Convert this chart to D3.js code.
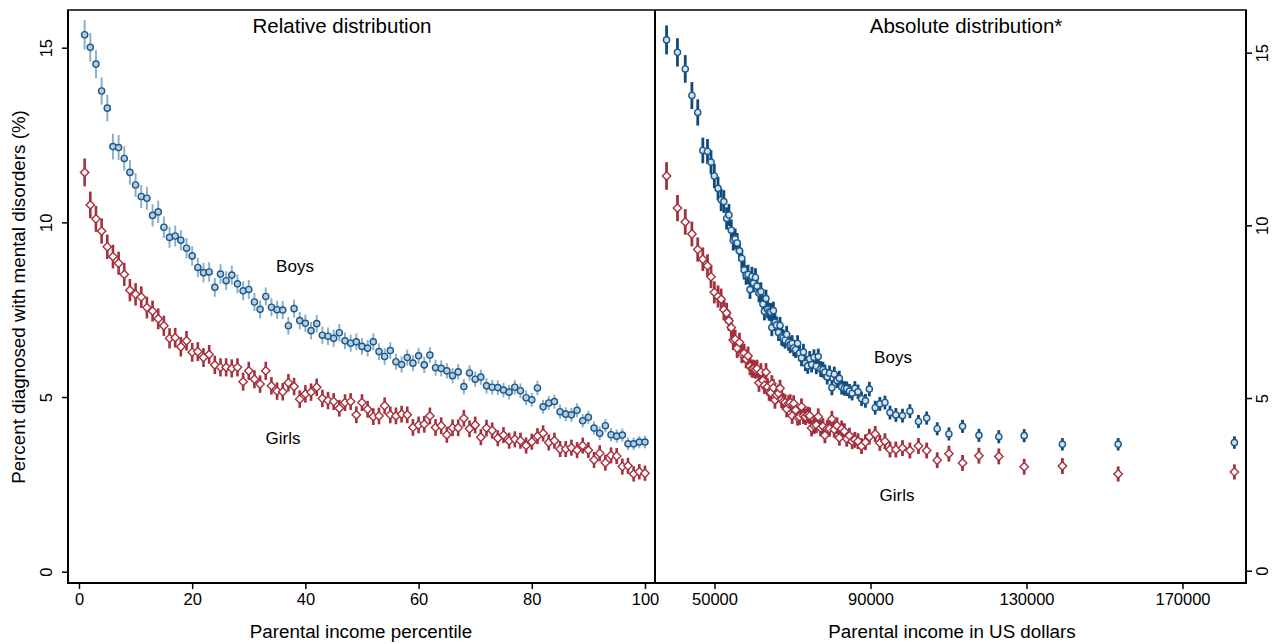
<!DOCTYPE html>
<html><head><meta charset="utf-8">
<script src="https://cdn.jsdelivr.net/npm/d3@7"></script>
<style>
body{margin:0;background:#fff}
svg{display:block}
text{font-family:"Liberation Sans",Arial,sans-serif;fill:#000}
</style>
</head><body>
<svg id="c" width="1274" height="644"></svg>
<script>
// ---------- DATA ----------
const percentiles = [1,2,3,4,5,6,7,8,9,10,11,12,13,14,15,16,17,18,19,20,21,22,23,24,25,26,27,28,29,30,31,32,33,34,35,36,37,38,39,40,41,42,43,44,45,46,47,48,49,50,51,52,53,54,55,56,57,58,59,60,61,62,63,64,65,66,67,68,69,70,71,72,73,74,75,76,77,78,79,80,81,82,83,84,85,86,87,88,89,90,91,92,93,94,95,96,97,98,99,100];

const boys = [15.37,15.01,14.53,13.76,13.27,12.17,12.14,11.83,11.43,11.07,
10.74,10.69,10.20,10.30,9.86,9.57,9.61,9.49,9.26,9.04,
8.71,8.56,8.58,8.14,8.52,8.33,8.49,8.24,8.04,8.08,
7.72,7.51,7.88,7.57,7.50,7.49,7.04,7.53,7.19,7.11,
6.90,7.10,6.77,6.74,6.68,6.84,6.61,6.54,6.58,6.45,
6.40,6.58,6.30,6.16,6.33,6.01,5.93,6.13,5.97,6.18,
5.92,6.20,5.84,5.82,5.75,5.61,5.72,5.30,5.69,5.51,
5.57,5.32,5.28,5.27,5.20,5.14,5.28,5.18,4.98,4.92,
5.26,4.72,4.83,4.87,4.58,4.51,4.49,4.62,4.32,4.42,
4.11,3.96,4.18,3.92,3.88,3.91,3.66,3.66,3.71,3.71];

const girls = [11.43,10.50,10.10,9.75,9.30,9.02,8.83,8.51,8.06,7.94,
7.86,7.56,7.46,7.24,7.04,6.68,6.70,6.44,6.61,6.28,
6.30,6.13,6.22,5.92,5.85,5.85,5.82,5.85,5.44,5.75,
5.51,5.37,5.75,5.32,5.17,5.15,5.41,5.30,4.94,5.09,
5.14,5.28,4.96,4.90,4.87,4.68,4.84,4.87,4.49,4.84,
4.65,4.44,4.46,4.75,4.49,4.46,4.51,4.49,4.13,4.20,
4.22,4.46,4.13,4.18,3.92,4.12,4.12,4.39,4.09,4.20,
3.85,4.11,4.04,3.82,3.91,3.75,3.79,3.75,3.61,3.72,
3.88,3.96,3.70,3.75,3.51,3.51,3.55,3.48,3.61,3.48,
3.20,3.39,3.12,3.33,3.31,3.01,3.03,2.80,2.86,2.82];

const boysCI = [0.42,0.41,0.40,0.39,0.38,0.37,0.36,0.35,0.35,0.34,
0.33,0.33,0.32,0.32,0.31,0.30,0.30,0.29,0.29,0.28,
0.28,0.28,0.28,0.27,0.28,0.27,0.27,0.27,0.27,0.27,
0.26,0.26,0.26,0.26,0.26,0.26,0.25,0.26,0.25,0.25,
0.25,0.25,0.25,0.25,0.25,0.25,0.24,0.24,0.24,0.24,
0.24,0.24,0.24,0.24,0.24,0.23,0.23,0.23,0.23,0.23,
0.23,0.23,0.23,0.23,0.22,0.22,0.22,0.22,0.22,0.22,
0.22,0.22,0.21,0.21,0.21,0.21,0.21,0.21,0.21,0.20,
0.21,0.20,0.20,0.20,0.20,0.20,0.20,0.20,0.19,0.19,
0.19,0.19,0.19,0.19,0.19,0.19,0.18,0.18,0.18,0.18];

const girlsCI = [0.40,0.38,0.37,0.36,0.35,0.34,0.33,0.33,0.32,0.32,
0.31,0.31,0.30,0.30,0.29,0.29,0.28,0.28,0.28,0.27,
0.27,0.27,0.27,0.26,0.26,0.26,0.26,0.26,0.26,0.26,
0.26,0.25,0.26,0.25,0.25,0.25,0.25,0.25,0.25,0.25,
0.25,0.25,0.25,0.25,0.24,0.24,0.24,0.24,0.24,0.24,
0.24,0.24,0.24,0.24,0.24,0.24,0.24,0.24,0.24,0.24,
0.24,0.24,0.24,0.24,0.23,0.24,0.24,0.24,0.24,0.24,
0.23,0.24,0.23,0.23,0.23,0.23,0.23,0.23,0.23,0.23,
0.23,0.23,0.23,0.23,0.23,0.23,0.23,0.23,0.23,0.23,
0.23,0.23,0.23,0.23,0.23,0.23,0.23,0.22,0.22,0.22];

// mean parental income (US$) of percentiles 1..99 (top percentile not shown in absolute panel)
const incomeUSD = [37700,40500,42500,44200,45700,47000,48200,49100,49950,50900,
51700,52400,53100,53700,54300,54800,55300,55800,56400,57000,
57600,58100,58600,59100,59600,60000,60500,60900,61400,61900,
62400,62800,63200,63600,64000,64400,64700,65100,65500,65900,
66400,66800,67200,67600,68100,68500,69000,69400,69900,70300,
70800,71300,71800,72300,72800,73300,73900,74400,74900,75500,
76100,76600,77200,77800,78300,78900,79500,80100,80700,81400,
82000,82600,83300,83900,84600,85300,86000,86800,87700,88700,
89700,91200,92400,93700,95000,96500,98200,100100,102300,104400,
107100,110100,113600,117800,122900,129400,139200,153500,183300];

const yTicks = [0,5,10,15];
const xTicksRel = [0,20,40,60,80,100];
const xTicksAbs = [50000,90000,130000,170000];
const panelTitles = ["Relative distribution","Absolute distribution*"];
const xTitles = ["Parental income percentile","Parental income in US dollars"];
const yTitle = "Percent diagnosed with mental disorders (%)";

// ---------- CHART ----------
const svg = d3.select('#c');
const BOY = '#1c5a8c', GIRL = '#a3303c';
const xL = d3.scaleLinear().domain([-1.94, 101.77]).range([68, 655]);
const yL = d3.scaleLinear().domain([0, 15]).range([571.7, 47.7]);
const xR = d3.scaleLinear().domain([34740, 186280]).range([655, 1246]);
const yR = d3.scaleLinear().domain([0, 15]).range([570.7, 52.7]);

const relBoys = percentiles.map((p,i)=>({x:p, y:boys[i], e:boysCI[i]}));
const relGirls = percentiles.map((p,i)=>({x:p, y:girls[i], e:girlsCI[i]}));
const absBoys = incomeUSD.map((v,i)=>({x:v, y:boys[i], e:boysCI[i]}));
const absGirls = incomeUSD.map((v,i)=>({x:v, y:girls[i], e:girlsCI[i]}));

const diamond = 'M0,-4.2L4.2,0L0,4.2L-4.2,0Z';

function drawSeries(g, data, xs, ys, barColor, barW, markColor, shape, fill){
  g.append('g').selectAll('line').data(data).join('line')
    .attr('x1', d=>xs(d.x)).attr('x2', d=>xs(d.x))
    .attr('y1', d=>ys(d.y - d.e)).attr('y2', d=>ys(d.y + d.e))
    .attr('stroke', barColor).attr('stroke-width', barW);
  if (shape === 'circle') {
    g.append('g').selectAll('circle').data(data).join('circle')
      .attr('cx', d=>xs(d.x)).attr('cy', d=>ys(d.y)).attr('r', 3.1)
      .attr('fill', fill).attr('stroke', markColor).attr('stroke-width', 1.4);
  } else {
    g.append('g').selectAll('path').data(data).join('path')
      .attr('d', diamond).attr('transform', d=>`translate(${xs(d.x)},${ys(d.y)})`)
      .attr('fill', fill).attr('stroke', markColor).attr('stroke-width', 1.4);
  }
}

const plot = svg.append('g');
drawSeries(plot, relBoys, xL, yL, '#8db0ca', 2, BOY, 'circle', '#b9cfe1');
drawSeries(plot, relGirls, xL, yL, GIRL, 2.6, GIRL, 'diamond', '#fff');
drawSeries(plot, absBoys, xR, yR, '#0e4b7c', 2.8, BOY, 'circle', '#d6e2ee');
drawSeries(plot, absGirls, xR, yR, GIRL, 2.8, GIRL, 'diamond', '#fff');

// frame
const frame = svg.append('g').attr('stroke', '#000').attr('fill', 'none');
frame.append('line').attr('x1', 67).attr('x2', 1247).attr('y1', 10).attr('y2', 10).attr('stroke-width', 1.3);
frame.append('line').attr('x1', 68).attr('x2', 68).attr('y1', 10).attr('y2', 584).attr('stroke-width', 2);
frame.append('line').attr('x1', 655).attr('x2', 655).attr('y1', 10).attr('y2', 584).attr('stroke-width', 2);
frame.append('line').attr('x1', 1246).attr('x2', 1246).attr('y1', 10).attr('y2', 584).attr('stroke-width', 2);
frame.append('line').attr('x1', 67).attr('x2', 1247).attr('y1', 583).attr('y2', 583).attr('stroke-width', 2.2);

// axes
function styleAxis(g){
  g.select('.domain').remove();
  g.selectAll('.tick line').attr('stroke', '#000').attr('stroke-width', 1.5);
  g.selectAll('.tick text').attr('font-size', 16.5).attr('fill', '#000')
    .attr('font-family', '"Liberation Sans",Arial,sans-serif');
}
const axL = svg.append('g').attr('transform', 'translate(68,0)')
  .call(d3.axisLeft(yL).tickValues(yTicks).tickSize(6).tickFormat(d3.format('d')));
styleAxis(axL);
axL.selectAll('.tick text').attr('x', 0).attr('dy', '0.35em').attr('text-anchor', 'middle')
  .attr('transform', 'translate(-22,0) rotate(-90)');

const axR = svg.append('g').attr('transform', 'translate(1246,0)')
  .call(d3.axisRight(yR).tickValues(yTicks).tickSize(6).tickFormat(d3.format('d')));
styleAxis(axR);
axR.selectAll('.tick text').attr('x', 0).attr('dy', '0.35em').attr('text-anchor', 'middle')
  .attr('transform', 'translate(16,0) rotate(-90)');

const axB1 = svg.append('g').attr('transform', 'translate(0,583)')
  .call(d3.axisBottom(xL).tickValues(xTicksRel).tickSize(6).tickFormat(d3.format('d')));
styleAxis(axB1);
axB1.selectAll('.tick text').attr('y', 10).attr('dy', '0.75em');

const axB2 = svg.append('g').attr('transform', 'translate(0,583)')
  .call(d3.axisBottom(xR).tickValues(xTicksAbs).tickSize(6).tickFormat(d3.format('d')));
styleAxis(axB2);
axB2.selectAll('.tick text').attr('y', 10).attr('dy', '0.75em');

// titles
svg.append('text').attr('x', 342).attr('y', 33).attr('text-anchor', 'middle').attr('font-size', 20.5).text(panelTitles[0]);
svg.append('text').attr('x', 966).attr('y', 33).attr('text-anchor', 'middle').attr('font-size', 20.5).text(panelTitles[1]);
svg.append('text').attr('x', 361).attr('y', 638).attr('text-anchor', 'middle').attr('font-size', 18.8).text(xTitles[0]);
svg.append('text').attr('x', 952).attr('y', 638).attr('text-anchor', 'middle').attr('font-size', 18.8).text(xTitles[1]);
svg.append('text').attr('transform', 'translate(25,297) rotate(-90)').attr('text-anchor', 'middle').attr('font-size', 18.8).text(yTitle);

// series labels
const labels = [
  {t:'Boys', x:295, y:272}, {t:'Girls', x:283, y:444},
  {t:'Boys', x:893, y:363}, {t:'Girls', x:897, y:501}
];
svg.append('g').selectAll('text').data(labels).join('text')
  .attr('x', d=>d.x).attr('y', d=>d.y).attr('text-anchor', 'middle').attr('font-size', 17).text(d=>d.t);
</script>
</body></html>
